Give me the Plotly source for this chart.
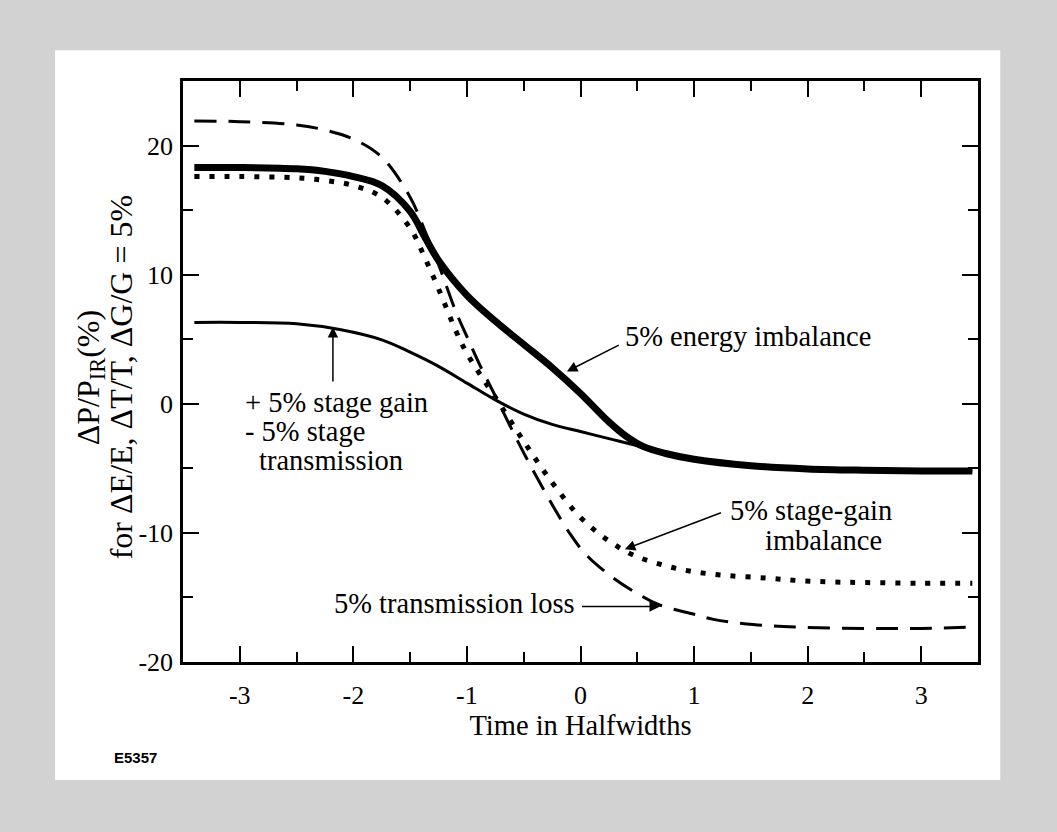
import plotly.graph_objects as go

# ---------------- data ----------------
t_energy = [-3.4, -3.0, -2.5, -2.25, -2.0, -1.75, -1.5, -1.37, -1.25, -1.0, -0.75, -0.5,
            -0.25, 0.0, 0.25, 0.4, 0.55, 0.75, 1.0, 1.5, 2.0, 2.5, 3.0, 3.45]
v_energy = [18.3, 18.3, 18.2, 18.0, 17.6, 16.9, 14.9, 12.9, 11.1, 8.4, 6.4, 4.6,
            2.8, 0.8, -1.4, -2.5, -3.3, -3.85, -4.3, -4.8, -5.05, -5.15, -5.2, -5.2]

t_gainloss = [-3.4, -3.0, -2.5, -2.12, -1.75, -1.5, -1.25, -1.0, -0.75, -0.5, -0.25,
              0.0, 0.25, 0.5, 0.75, 1.0, 1.5, 2.0, 2.5, 3.0, 3.45]
v_gainloss = [6.3, 6.3, 6.2, 5.75, 4.95, 4.0, 2.9, 1.6, 0.3, -0.8, -1.6,
              -2.15, -2.7, -3.25, -3.85, -4.3, -4.8, -5.05, -5.15, -5.2, -5.2]

t_stagegain = [-3.4, -3.0, -2.5, -2.25, -2.0, -1.75, -1.5, -1.37, -1.25, -1.09, -1.0, -0.886,
               -0.75, -0.5, -0.25, 0.0, 0.23, 0.46, 0.73, 0.99, 1.29, 1.64, 1.93,
               2.22, 2.52, 3.0, 3.45]
v_stagegain = [17.6, 17.6, 17.5, 17.3, 16.9, 16.0, 13.6, 11.3, 8.9, 5.5, 3.9, 2.3,
               0.5, -2.9, -6.1, -8.8, -10.5, -11.7, -12.5, -13.0, -13.3, -13.5, -13.7,
               -13.8, -13.85, -13.9, -13.9]

t_trans = [-3.4, -3.0, -2.5, -2.25, -2.0, -1.75, -1.5, -1.37, -1.25, -1.1, -1.0, -0.886,
           -0.75, -0.5, -0.25, -0.09, 0.05, 0.26, 0.5, 0.7, 1.0, 1.17, 1.52, 1.93,
           2.52, 3.0, 3.45]
v_trans = [21.9, 21.85, 21.6, 21.2, 20.5, 19.1, 16.0, 13.4, 10.8, 7.2, 5.2, 3.0,
           0.6, -3.8, -7.8, -10.1, -11.7, -13.3, -14.7, -15.6, -16.3, -16.7, -17.1, -17.3,
           -17.4, -17.4, -17.3]

x_tickvals = [-3, -2, -1, 0, 1, 2, 3]
x_ticktext = ["-3", "-2", "-1", "0", "1", "2", "3"]
y_tickvals = [-20, -10, 0, 10, 20]
y_ticktext = ["-20", "-10", "0", "10", "20"]

SERIF = "Liberation Serif, Times New Roman, serif"
FS = 28.5

fig = go.Figure()
fig.add_trace(go.Scatter(x=t_trans, y=v_trans, mode="lines",
                         line=dict(color="black", width=3, dash="22px,12px", shape="spline")))
fig.add_trace(go.Scatter(x=t_stagegain, y=v_stagegain, mode="lines",
                         line=dict(color="black", width=5, dash="5px,10px", shape="spline")))
fig.add_trace(go.Scatter(x=t_gainloss, y=v_gainloss, mode="lines",
                         line=dict(color="black", width=3, shape="spline")))
fig.add_trace(go.Scatter(x=t_energy, y=v_energy, mode="lines",
                         line=dict(color="black", width=7, shape="spline")))

anns = []
def txt(x, y, s, anchor="left", size=FS):
    anns.append(dict(x=x, y=y, xref="x", yref="y", text=s, showarrow=False,
                     xanchor=anchor, yanchor="middle",
                     font=dict(family=SERIF, size=size, color="black")))

def arrow(x, y, ax, ay):
    anns.append(dict(x=x, y=y, ax=ax, ay=ay, xref="x", yref="y", axref="x", ayref="y",
                     text="", showarrow=True, arrowhead=2, arrowsize=1.4,
                     arrowwidth=1.5, arrowcolor="black", standoff=0))

txt(0.37, 5.2, "5% energy imbalance")
arrow(-0.12, 2.5, 0.35, 4.6)

txt(-2.97, 0.1, "+ 5% stage gain")
txt(-2.97, -2.15, "- 5% stage")
txt(-2.85, -4.4, "transmission")
arrow(-2.18, 5.95, -2.18, 1.6)

txt(1.30, -8.25, "5% stage-gain")
txt(1.61, -10.6, "imbalance")
arrow(0.39, -11.27, 1.25, -8.4)

txt(-0.03, -15.45, "5% transmission loss", anchor="right")
arrow(0.70, -15.7, 0.0, -15.7)

# two-line y title
anns.append(dict(x=-0.117, y=0.49, xref="paper", yref="paper",
                 text="ΔP/P<sub>IR</sub>(%)", textangle=-90,
                 showarrow=False, xanchor="center", yanchor="middle",
                 font=dict(family=SERIF, size=32, color="black")))
anns.append(dict(x=-0.078, y=0.49, xref="paper", yref="paper",
                 text="for ΔE/E, ΔT/T, ΔG/G = 5%", textangle=-90,
                 showarrow=False, xanchor="center", yanchor="middle",
                 font=dict(family=SERIF, size=32, color="black")))
anns.append(dict(x=-0.089, y=-0.165, xref="paper", yref="paper", text="<b>E5357</b>",
                 showarrow=False, xanchor="left", yanchor="middle",
                 font=dict(family="Liberation Sans, Arial, sans-serif", size=15, color="black")))

axis_common = dict(showline=True, linecolor="black", linewidth=2.5, mirror="allticks",
                   ticks="inside", ticklen=16, tickwidth=2, tickcolor="black",
                   showgrid=False, zeroline=False,
                   tickfont=dict(family=SERIF, size=26, color="black"))

fig.update_layout(
    width=1057, height=832,
    margin=dict(l=183, r=79, t=81, b=170),
    paper_bgcolor="#d2d2d2", plot_bgcolor="white",
    showlegend=False,
    annotations=anns,
    shapes=[dict(type="rect", xref="paper", yref="paper", x0=-0.161, x1=1.028,
                 y0=-0.203, y1=1.053, fillcolor="white", line=dict(width=0), layer="below")],
    xaxis=dict(range=[-3.5, 3.5], tickmode="array", tickvals=x_tickvals, ticktext=x_ticktext,
               ticklabelstandoff=8,
               title=dict(text="Time in Halfwidths", standoff=6,
                          font=dict(family=SERIF, size=FS, color="black")),
               minor=dict(ticks="inside", ticklen=10, tickwidth=2, tickcolor="black",
                          tickvals=[-2.5, -1.5, -0.5, 0.5, 1.5, 2.5], showgrid=False),
               **axis_common),
    yaxis=dict(range=[-20, 25], tickmode="array", tickvals=y_tickvals, ticktext=y_ticktext,
               ticklabelstandoff=2,
               minor=dict(ticks="inside", ticklen=10, tickwidth=2, tickcolor="black",
                          tickvals=[-15, -5, 5, 15], showgrid=False),
               **axis_common),
)

fig.write_html("out.html")
